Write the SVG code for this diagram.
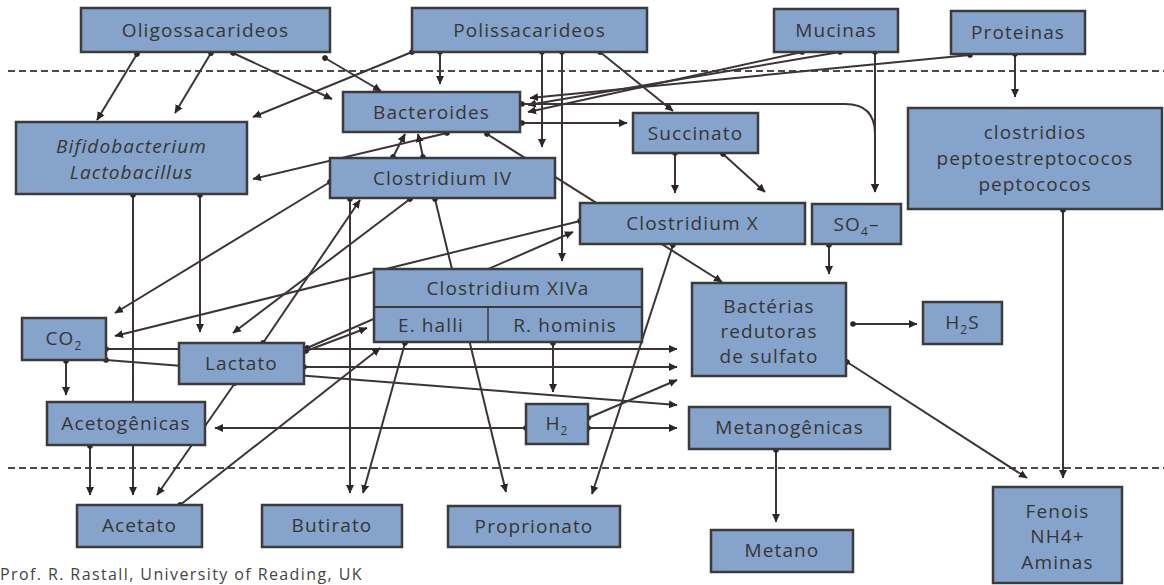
<svg xmlns="http://www.w3.org/2000/svg" width="1164" height="585" viewBox="0 0 1164 585">
<style>
.bx{fill:#86a3cb;stroke:#3b3b3b;stroke-width:2.5}
.t{font-family:"Open Sans","Liberation Sans",sans-serif;font-size:19px;letter-spacing:1.1px;fill:#363636;text-anchor:middle}
.i{font-style:italic}
.c{fill:none;stroke:#3d3535;stroke-width:2;marker-start:url(#dot);marker-end:url(#arr)}
.dash{stroke:#4a4a4a;stroke-width:2;stroke-dasharray:7 4}
.ft{font-family:"Open Sans","Liberation Sans",sans-serif;font-size:16px;letter-spacing:1.4px;fill:#444}
</style>
<defs>
<marker id="dot" markerUnits="userSpaceOnUse" markerWidth="8" markerHeight="8" refX="4" refY="4" orient="auto"><circle cx="4" cy="4" r="2.8" fill="#2e2626"/></marker>
<marker id="arr" markerUnits="userSpaceOnUse" markerWidth="9" markerHeight="9" refX="8" refY="4.5" orient="auto"><path d="M0,0.5 L8.5,4.5 L0,8.5 Z" fill="#2e2626"/></marker>
</defs>
<rect width="1164" height="585" fill="#ffffff"/>
<g id="separators">
<line class="dash" x1="8" y1="71" x2="1164" y2="71"/>
<line class="dash" x1="8" y1="468" x2="1164" y2="468"/>
</g>
<g id="connectors">
<line class="c" x1="137" y1="54" x2="97" y2="120"/>
<line class="c" x1="211" y1="53" x2="175" y2="113"/>
<line class="c" x1="233" y1="53" x2="332" y2="99"/>
<line class="c" x1="325" y1="58" x2="381" y2="91"/>
<line class="c" x1="412" y1="52" x2="253" y2="117"/>
<line class="c" x1="440" y1="52" x2="440" y2="84"/>
<line class="c" x1="542" y1="52" x2="542" y2="147"/>
<line class="c" x1="562" y1="52" x2="562" y2="261"/>
<line class="c" x1="600" y1="52" x2="673" y2="111"/>
<line class="c" x1="802" y1="52" x2="528" y2="112"/>
<line class="c" x1="840" y1="52" x2="528" y2="105"/>
<line class="c" x1="970" y1="55" x2="530" y2="98"/>
<path class="c" d="M522,104 L845,104 Q875,104 875,134 L875,192"/>
<line class="c" x1="875" y1="52" x2="875" y2="192"/>
<line class="c" x1="522" y1="123" x2="627" y2="123"/>
<line class="c" x1="1015" y1="54" x2="1015" y2="97"/>
<line class="c" x1="447" y1="133" x2="253" y2="179"/>
<line class="c" x1="393" y1="157" x2="405" y2="134"/>
<line class="c" x1="423" y1="157" x2="418" y2="134"/>
<line class="c" x1="487" y1="134" x2="722" y2="282"/>
<line class="c" x1="330" y1="182" x2="115" y2="313"/>
<line class="c" x1="410" y1="199" x2="233" y2="333"/>
<line class="c" x1="263" y1="343" x2="360" y2="200"/>
<line class="c" x1="350" y1="199" x2="350" y2="493"/>
<line class="c" x1="435" y1="199" x2="506" y2="492"/>
<line class="c" x1="675" y1="153" x2="675" y2="193"/>
<line class="c" x1="723" y1="154" x2="765" y2="192"/>
<line class="c" x1="580" y1="221" x2="115" y2="336"/>
<line class="c" x1="307" y1="348" x2="573" y2="232"/>
<line class="c" x1="306" y1="351" x2="367" y2="328"/>
<line class="c" x1="673" y1="245" x2="592" y2="494"/>
<line class="c" x1="829" y1="245" x2="829" y2="274"/>
<line class="c" x1="853" y1="324" x2="917" y2="324"/>
<line class="c" x1="847" y1="362" x2="1027" y2="478"/>
<line class="c" x1="1063" y1="210" x2="1063" y2="478"/>
<line class="c" x1="106" y1="349" x2="677" y2="349"/>
<line class="c" x1="304" y1="367" x2="677" y2="367"/>
<line class="c" x1="106" y1="360" x2="677" y2="405"/>
<line class="c" x1="553" y1="343" x2="553" y2="392"/>
<line class="c" x1="588" y1="418" x2="677" y2="380"/>
<line class="c" x1="588" y1="428" x2="677" y2="428"/>
<line class="c" x1="526" y1="428" x2="215" y2="428"/>
<line class="c" x1="235" y1="383" x2="157" y2="495"/>
<line class="c" x1="66" y1="361" x2="66" y2="395"/>
<line class="c" x1="133" y1="195" x2="133" y2="495"/>
<line class="c" x1="200" y1="195" x2="200" y2="332"/>
<line class="c" x1="90" y1="446" x2="90" y2="495"/>
<line class="c" x1="180" y1="505" x2="380" y2="348"/>
<line class="c" x1="405" y1="343" x2="363" y2="493"/>
<line class="c" x1="776" y1="450" x2="776" y2="522"/>
</g>
<g id="n-oligo"><rect class="bx" x="81" y="8" width="249" height="44"/><text class="t" x="205.5" y="37">Oligossacarideos</text></g>
<g id="n-polis"><rect class="bx" x="412" y="8" width="235" height="44"/><text class="t" x="529.5" y="37">Polissacarideos</text></g>
<g id="n-mucinas"><rect class="bx" x="774" y="9" width="124" height="43"/><text class="t" x="836" y="37">Mucinas</text></g>
<g id="n-proteinas"><rect class="bx" x="951" y="11" width="134" height="43"/><text class="t" x="1018" y="39">Proteinas</text></g>
<g id="n-bacteroides"><rect class="bx" x="343" y="92" width="177" height="40"/><text class="t" x="431.5" y="119">Bacteroides</text></g>
<g id="n-bifido"><rect class="bx" x="16" y="122" width="231" height="72"/><text class="t i" x="131.5" y="153">Bifidobacterium</text><text class="t i" x="131.5" y="179">Lactobacillus</text></g>
<g id="n-clostIV"><rect class="bx" x="330" y="158" width="225" height="40"/><text class="t" x="442.5" y="185">Clostridium IV</text></g>
<g id="n-succinato"><rect class="bx" x="633" y="113" width="125" height="40"/><text class="t" x="695.5" y="140">Succinato</text></g>
<g id="n-clostridios"><rect class="bx" x="908" y="108" width="254" height="101"/><text class="t" x="1035" y="139">clostridios</text><text class="t" x="1035" y="165">peptoestreptococos</text><text class="t" x="1035" y="191">peptococos</text></g>
<g id="n-clostX"><rect class="bx" x="580" y="203" width="225" height="41"/><text class="t" x="692.5" y="230">Clostridium X</text></g>
<g id="n-so4"><rect class="bx" x="812" y="204" width="89" height="40"/><text class="t" x="856.5" y="231">SO<tspan font-size="12" dy="5">4</tspan><tspan dy="-5">–</tspan></text></g>
<g id="n-xiva"><rect class="bx" x="374" y="269" width="268" height="73"/><line x1="374" y1="307" x2="642" y2="307" stroke="#3b3b3b" stroke-width="2"/><line x1="488" y1="307" x2="488" y2="342" stroke="#3b3b3b" stroke-width="1.5"/><text class="t" x="508" y="295">Clostridium XIVa</text><text class="t" x="431" y="332">E. halli</text><text class="t" x="565" y="332">R. hominis</text></g>
<g id="n-bacterias"><rect class="bx" x="692" y="283" width="154" height="93"/><text class="t" x="769" y="313">Bactérias</text><text class="t" x="769" y="338">redutoras</text><text class="t" x="769" y="363">de sulfato</text></g>
<g id="n-h2s"><rect class="bx" x="923" y="302" width="79" height="42"/><text class="t" x="962.5" y="329">H<tspan font-size="12" dy="5">2</tspan><tspan dy="-5">S</tspan></text></g>
<g id="n-co2"><rect class="bx" x="22" y="318" width="84" height="42"/><text class="t" x="64" y="345">CO<tspan font-size="12" dy="5">2</tspan></text></g>
<g id="n-lactato"><rect class="bx" x="179" y="343" width="125" height="41"/><text class="t" x="241.5" y="370">Lactato</text></g>
<g id="n-acetog"><rect class="bx" x="47" y="402" width="158" height="43"/><text class="t" x="126" y="430">Acetogênicas</text></g>
<g id="n-h2"><rect class="bx" x="526" y="404" width="62" height="40"/><text class="t" x="557" y="430">H<tspan font-size="12" dy="5">2</tspan></text></g>
<g id="n-metanog"><rect class="bx" x="689" y="407" width="201" height="42"/><text class="t" x="789.5" y="434">Metanogênicas</text></g>
<g id="n-acetato"><rect class="bx" x="77" y="505" width="125" height="42"/><text class="t" x="139.5" y="532">Acetato</text></g>
<g id="n-butirato"><rect class="bx" x="262" y="505" width="140" height="42"/><text class="t" x="332" y="532">Butirato</text></g>
<g id="n-proprionato"><rect class="bx" x="448" y="506" width="172" height="41"/><text class="t" x="534" y="533">Proprionato</text></g>
<g id="n-metano"><rect class="bx" x="711" y="530" width="142" height="42"/><text class="t" x="782" y="557">Metano</text></g>
<g id="n-fenois"><rect class="bx" x="993" y="487" width="129" height="96"/><text class="t" x="1057.5" y="518">Fenois</text><text class="t" x="1057.5" y="543">NH4+</text><text class="t" x="1057.5" y="569">Aminas</text></g>
<text class="ft" x="0" y="580">Prof. R. Rastall, University of Reading, UK</text>
</svg>
